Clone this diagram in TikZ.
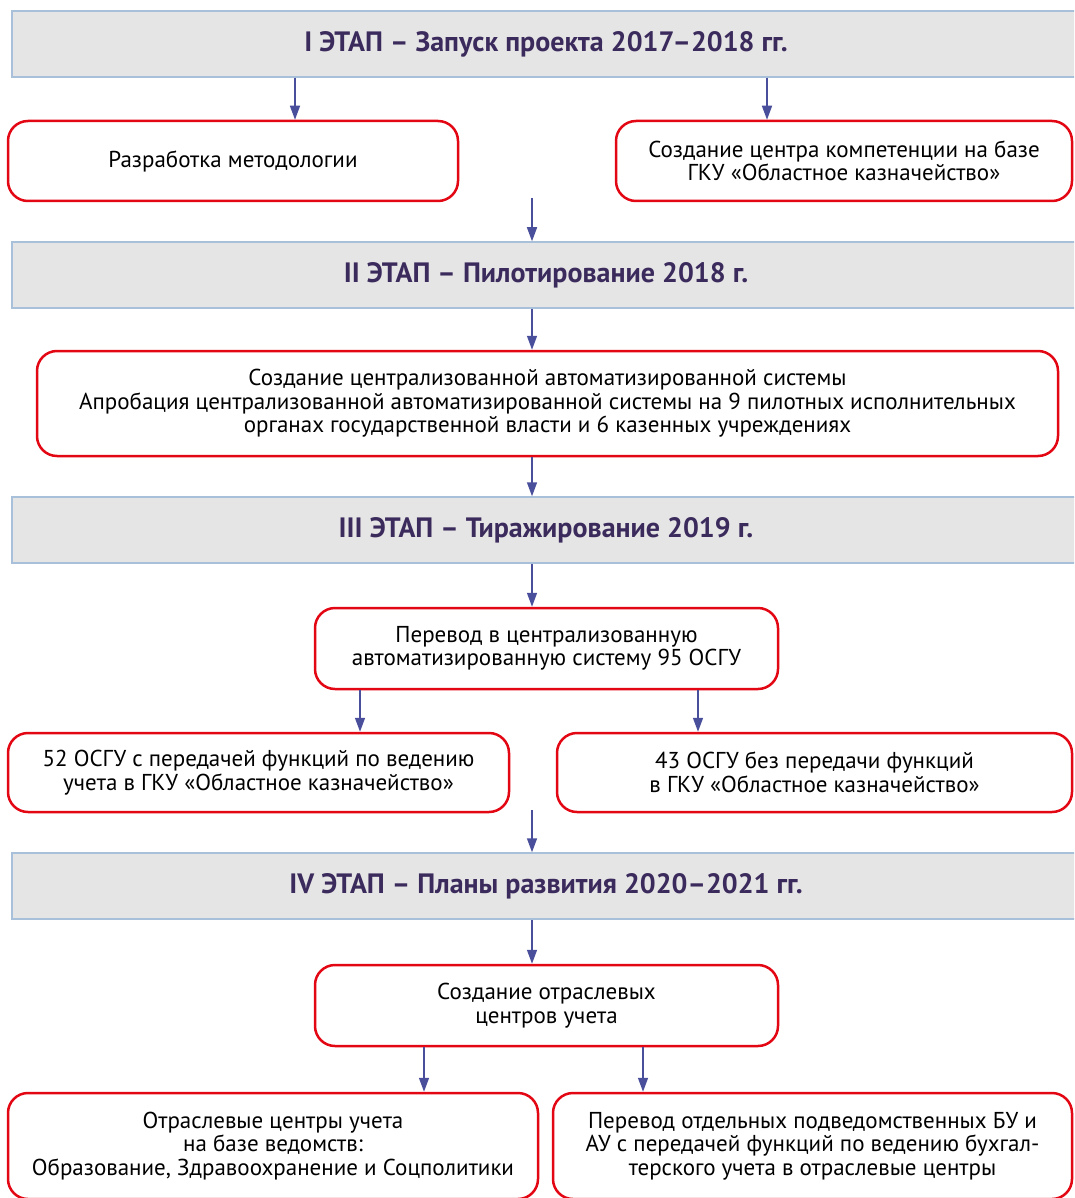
\documentclass[tikz,border=0pt]{standalone}
\usepackage{fontspec}
\setmainfont{PT Sans}
\usetikzlibrary{arrows.meta}

\definecolor{stagefill}{HTML}{E5E5E5}
\definecolor{stageline}{HTML}{A9C0DA}
\definecolor{stagetext}{HTML}{3B2A5C}
\definecolor{taskline}{HTML}{E30613}
\definecolor{arrline}{HTML}{4A4F9C}

\begin{document}
\begin{tikzpicture}[x=1pt, y=-1pt, >={Triangle[length=14pt,width=10pt]},
  stage/.style={draw=stageline, line width=1.5pt, fill=stagefill, inner sep=0pt,
    minimum width=1068pt, minimum height=66pt, text=stagetext,
    font=\fontsize{28}{32}\selectfont\bfseries},
  task/.style={draw=taskline, line width=2.5pt, rounded corners=20pt, inner sep=0pt,
    align=center, font=\fontsize{23}{23.5}\selectfont},
  arr/.style={->, draw=arrline, line width=1.5pt}]

\clip (0,0) rectangle (1074,1198);

% stages
\foreach \n/\y/\t in {h1/44/{I ЭТАП – Запуск проекта 2017–2018 гг.},
                      h2/275/{II ЭТАП – Пилотирование 2018 г.},
                      h3/530/{III ЭТАП – Тиражирование 2019 г.},
                      h4/886/{IV ЭТАП – Планы развития 2020–2021 гг.}}
  \node [stage] (\n) at (546,\y) {\t};

% stage I
\node [task, minimum width=450pt, minimum height=80pt] (a) at (233,161)
  {Разработка методологии};
\node [task, minimum width=456pt, minimum height=80pt] (b) at (844,161)
  {Создание центра компетенции на базе\\ГКУ «Областное казначейство»};

% stage II
\node [task, minimum width=1021pt, minimum height=105pt] (c) at (547.5,403.5)
  {Создание централизованной автоматизированной системы\\
   Апробация централизованной автоматизированной системы на 9 пилотных исполнительных\\
   органах государственной власти и 6 казенных учреждениях};

% stage III
\node [task, minimum width=463pt, minimum height=81pt] (d) at (546.5,648.5)
  {Перевод в централизованную\\автоматизированную систему 95 ОСГУ};
\node [task, minimum width=501pt, minimum height=79pt] (e) at (258.5,772.5)
  {52 ОСГУ с передачей функций по ведению\\учета в ГКУ «Областное казначейство»};
\node [task, minimum width=515pt, minimum height=79pt] (f) at (814.5,772.5)
  {43 ОСГУ без передачи функций\\в ГКУ «Областное казначейство»};

% stage IV
\node [task, minimum width=463pt, minimum height=81pt] (g) at (546.5,1005.5)
  {Создание отраслевых\\центров учета};
\node [task, minimum width=530pt, minimum height=106pt] (h) at (273,1146)
  {Отраслевые центры учета\\на базе ведомств:\\Образование, Здравоохранение и Соцполитики};
\node [task, minimum width=519pt, minimum height=106pt] (i) at (812.5,1146)
  {Перевод отдельных подведомственных БУ и\\АУ с передачей функций по ведению бухгал-\\терского учета в отраслевые центры};

% free starts
\coordinate (s1) at (532,198);
\coordinate (s2) at (532,810);

% Connections
\draw [arr] (h1.south -| 295,0) -- (a.north -| 295,0);
\draw [arr] (h1.south -| 767,0) -- (b.north -| 767,0);
\draw [arr] (s1) -- (h2.north -| s1);
\draw [arr] (h2.south -| 532,0) -- (c.north -| 532,0);
\draw [arr] (c.south -| 532,0) -- (h3.north -| 532,0);
\draw [arr] (h3.south -| 532,0) -- (d.north -| 532,0);
\draw [arr] (d.south -| 360,0) -- (e.north -| 360,0);
\draw [arr] (d.south -| 698,0) -- (f.north -| 698,0);
\draw [arr] (s2) -- (h4.north -| s2);
\draw [arr] (h4.south -| 532,0) -- (g.north -| 532,0);
\draw [arr] (g.south -| 424,0) -- (h.north -| 424,0);
\draw [arr] (g.south -| 643,0) -- (i.north -| 643,0);

\end{tikzpicture}
\end{document}
